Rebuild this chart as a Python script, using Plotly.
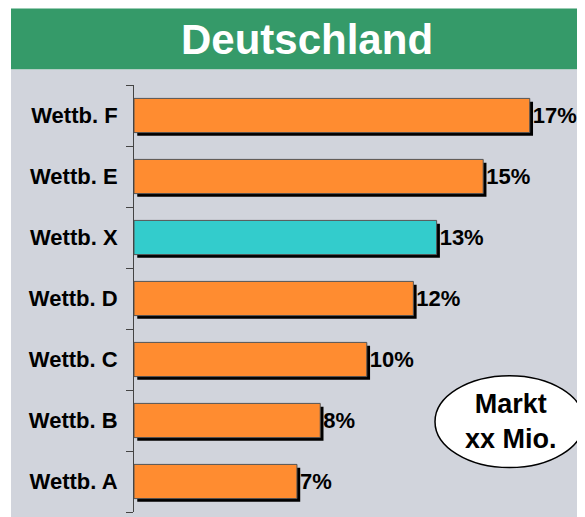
import plotly.graph_objects as go

# Data (bottom to top)
categories = ["Wettb. A", "Wettb. B", "Wettb. C", "Wettb. D", "Wettb. X", "Wettb. E", "Wettb. F"]
shares = [7, 8, 10, 12, 13, 15, 17]
highlight = "Wettb. X"
title_text = "Deutschland"
bubble_text = "Markt<br>xx Mio."

ORANGE = "#FF8C30"
TEAL = "#33CCCC"
GREEN = "#359A69"
GRAY = "#D1D4DC"
FONT = "Liberation Sans, Arial, sans-serif"

OFF = 8  # page body margin
SCREEN_W, SCREEN_H = 585, 517
W, H = SCREEN_W - OFF, SCREEN_H - OFF
# plot area in screen pixels
AX_X, AX_TOP, AX_BOT = 134, 84.7, 512.5
L = AX_X - OFF
T = AX_TOP - OFF
B = H - (AX_BOT - OFF)
R = 0
pw, ph = W - L - R, H - T - B

def px(x):
    return (x - OFF - L) / pw

def py(y):
    return (H - B - (y - OFF)) / ph

bar_w = 0.56
colors = [TEAL if c == highlight else ORANGE for c in categories]

fig = go.Figure()
# drop shadow
fig.add_trace(go.Bar(
    x=shares, y=categories, orientation="h",
    base=0.14, width=bar_w, offset=-bar_w / 2 - 0.054,
    marker=dict(color="black", line=dict(width=0)),
    hoverinfo="skip", showlegend=False,
))
fig.add_trace(go.Bar(
    x=shares, y=categories, orientation="h",
    width=bar_w, offset=-bar_w / 2,
    marker=dict(color=colors, line=dict(color="#555555", width=1)),
    text=[f"{v}%" for v in shares], textposition="outside",
    textfont=dict(family=FONT, size=22, color="black", weight=700),
    cliponaxis=False, hoverinfo="skip", showlegend=False,
))

shapes = [
    dict(type="rect", xref="paper", yref="paper", x0=px(11), x1=px(600), y0=py(69), y1=py(530),
         fillcolor=GRAY, line=dict(width=0), layer="below"),
    dict(type="rect", xref="paper", yref="paper", x0=px(11), x1=px(600), y0=py(8), y1=py(69),
         fillcolor=GREEN, line=dict(width=0), layer="below"),
    dict(type="circle", xref="paper", yref="paper", x0=px(435), x1=px(584), y0=py(468), y1=py(376),
         fillcolor="white", line=dict(color="black", width=1.5), layer="above"),
]

annotations = [
    dict(text=title_text, xref="paper", yref="paper", x=px(307), y=py(39), showarrow=False,
         xanchor="center", yanchor="middle",
         font=dict(family=FONT, size=42, color="white", weight=700)),
    dict(text=bubble_text, xref="paper", yref="paper", x=px(511), y=py(422), showarrow=False,
         xanchor="center", yanchor="middle",
         font=dict(family=FONT, size=27, color="black", weight=700)),
]

fig.update_layout(
    width=W, height=H,
    margin=dict(l=L, r=R, t=T, b=B, pad=0),
    paper_bgcolor="white", plot_bgcolor="rgba(0,0,0,0)",
    barmode="overlay",
    shapes=shapes, annotations=annotations,
    xaxis=dict(range=[0, pw / 23.28], visible=False, fixedrange=True),
    yaxis=dict(
        categoryorder="array", categoryarray=categories,
        showline=True, linecolor="#444444", linewidth=1,
        ticks="outside", tickson="boundaries", ticklen=7, tickcolor="#444444", tickwidth=1,
        ticklabelstandoff=11,
        tickfont=dict(family=FONT, size=22, color="black", weight=700),
        showgrid=False, zeroline=False, fixedrange=True,
    ),
)

fig.write_html("out.html")
